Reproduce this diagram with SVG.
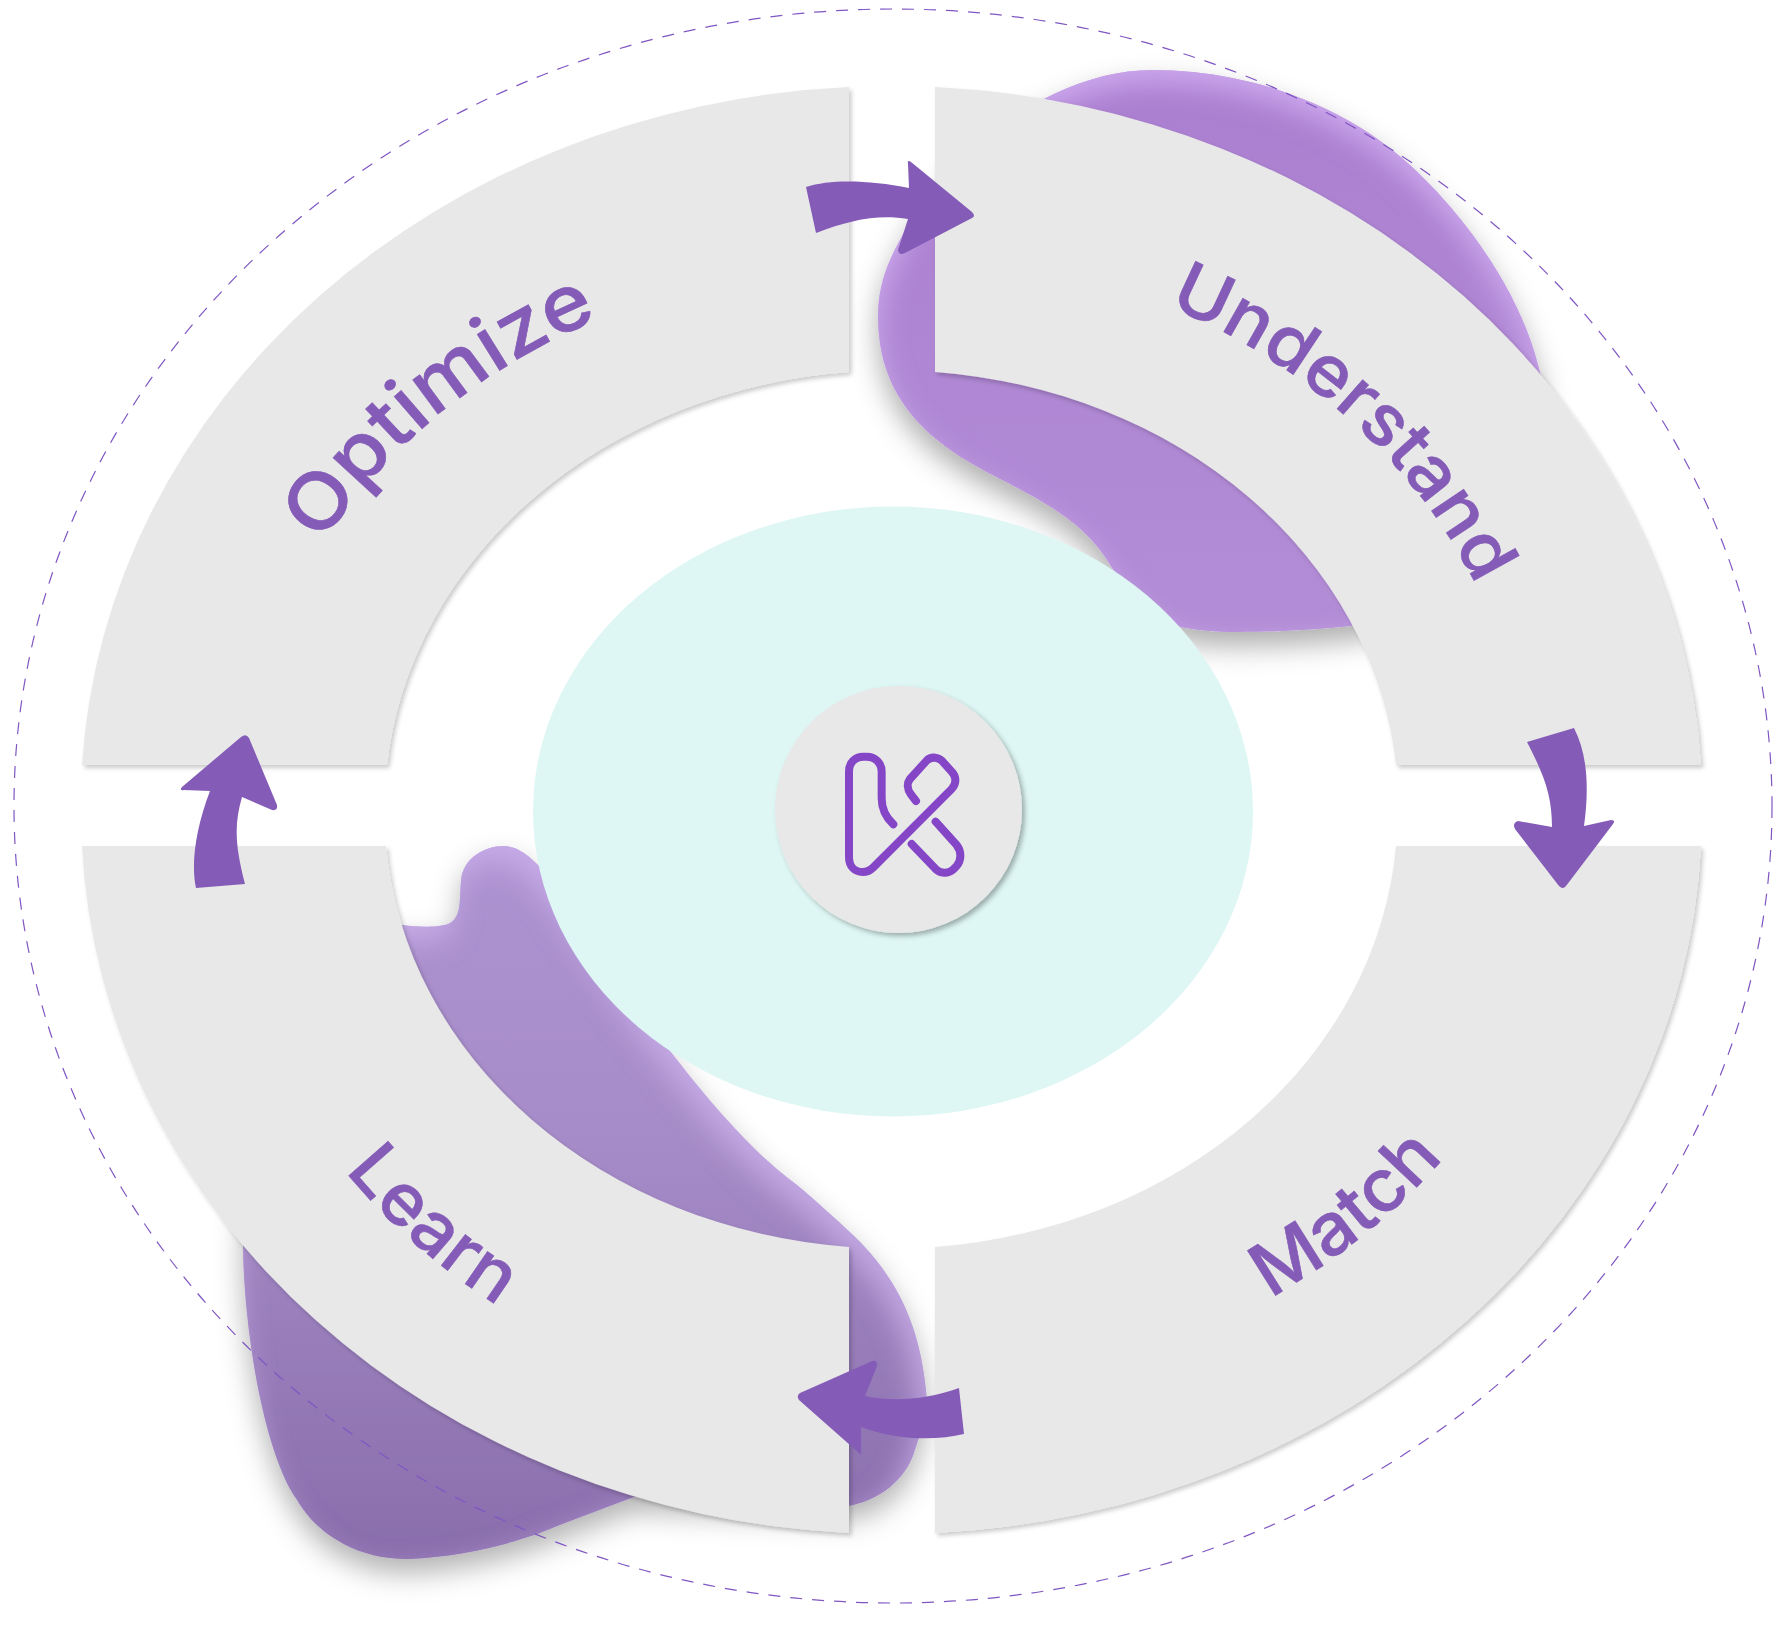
<svg xmlns="http://www.w3.org/2000/svg" width="1786" height="1630" viewBox="0 0 1786 1630">
<style>
.seg{fill:#e8e8e8;filter:url(#segShadow)}
.lbl{font-family:"Inter","Liberation Sans",sans-serif;font-weight:500;fill:#845bb7;stroke:#845bb7;stroke-width:0.6}
.arrow{fill:#845bb7}
.logo{fill:none;stroke:#8446c7;stroke-width:24;stroke-linecap:round;stroke-linejoin:round}
</style>
<defs>
<filter id="segShadow" x="-5%" y="-5%" width="110%" height="110%">
<feDropShadow dx="2.5" dy="3" stdDeviation="2" flood-color="#000" flood-opacity="0.2"/>
</filter>
<filter id="discShadow" x="-10%" y="-10%" width="120%" height="120%">
<feDropShadow dx="3" dy="3" stdDeviation="2.5" flood-color="#000" flood-opacity="0.3"/>
</filter>
<filter id="blobUp" x="-15%" y="-15%" width="130%" height="130%">
<feGaussianBlur in="SourceAlpha" stdDeviation="14" result="b"/>
<feOffset in="b" dy="14" result="bo"/>
<feFlood flood-color="#000" flood-opacity="0.32"/>
<feComposite in2="bo" operator="in" result="shadow"/>
<feOffset in="b" dy="12" result="inner"/>
<feComposite in="SourceAlpha" in2="inner" operator="out" result="edge"/>
<feFlood flood-color="#d2aef2" flood-opacity="0.85"/>
<feComposite in2="edge" operator="in" result="glow"/>
<feMerge><feMergeNode in="shadow"/><feMergeNode in="SourceGraphic"/><feMergeNode in="glow"/></feMerge>
</filter>
<filter id="blobLow" x="-15%" y="-15%" width="130%" height="130%">
<feGaussianBlur in="SourceAlpha" stdDeviation="14" result="b"/>
<feOffset in="b" dy="14" result="bo"/>
<feFlood flood-color="#000" flood-opacity="0.3"/>
<feComposite in2="bo" operator="in" result="shadow"/>
<feOffset in="b" dx="-7" dy="14" result="inner"/>
<feComposite in="SourceAlpha" in2="inner" operator="out" result="edge"/>
<feFlood flood-color="#d0b4f0" flood-opacity="0.7"/>
<feComposite in2="edge" operator="in" result="glow"/>
<feMerge><feMergeNode in="shadow"/><feMergeNode in="SourceGraphic"/><feMergeNode in="glow"/></feMerge>
</filter>
<linearGradient id="gradUp" gradientUnits="userSpaceOnUse" x1="0" y1="70" x2="0" y2="632">
<stop offset="0" stop-color="#ab7fd0"/><stop offset="1" stop-color="#b28dd6"/>
</linearGradient>
<linearGradient id="gradLow" gradientUnits="userSpaceOnUse" x1="0" y1="846" x2="0" y2="1560">
<stop offset="0" stop-color="#ae93d2"/><stop offset="0.4" stop-color="#a68cc8"/><stop offset="1" stop-color="#896dac"/>
</linearGradient>
<path id="pU" d="M1168,306 A630,553 0 0 1 1475,583"/>
<path id="pO" d="M322,544 A630,553 0 0 1 587,324"/>
<path id="pL" d="M345,1171 A690,605 0 0 0 498,1306"/>
<path id="pM" d="M1270,1298 A680,597 0 0 0 1442,1160"/>
</defs>
<rect width="1786" height="1630" fill="#fff"/>
<g id="blobs">
<path fill="url(#gradUp)" filter="url(#blobUp)" d="M1153,70 C1240,70 1340,100 1410,165 C1470,220 1525,300 1541,377 C1545,500 1420,620 1351,626 C1310,630 1270,632 1239,632 C1215,632 1195,630 1180,627 C1150,610 1130,590 1112,568 C1090,530 1060,510 1008,483 C960,458 878,420 878,317 C878,285 888,262 900,240 C935,170 1040,70 1153,70 Z"/>
<path fill="url(#gradLow)" filter="url(#blobLow)" d="M503,846 C485,846 463,858 461,880 C459,900 462,915 450,923 C440,928 420,927 402,925 C340,925 243,1100 243,1243 C243,1320 262,1450 297,1500 C320,1540 365,1559 404,1559 C445,1559 510,1547 560,1525 L634,1497 L849,1506 C880,1500 905,1480 914,1453 C925,1420 928,1410 926,1390 C920,1330 900,1280 854,1236 C835,1218 815,1200 797,1185 C770,1165 750,1145 729,1122 C705,1096 685,1070 666,1046 C610,975 570,900 538,865 C525,852 515,846 503,846 Z"/>
</g>
<ellipse id="center-field" cx="893" cy="811.5" rx="360" ry="305" fill="#def7f4"/>
<ellipse id="orbit" cx="893" cy="806" rx="879" ry="797" fill="none" stroke="#7f56c2" stroke-width="1.2" stroke-dasharray="12 10"/>
<g id="node-optimize">
<path class="seg" d="M849,87 A812,720 0 0 0 82,765 L387,765 A507,436 0 0 1 849,372 Z"/>
<text class="lbl" font-size="78"><textPath href="#pO" textLength="362" lengthAdjust="spacingAndGlyphs">Optimize</textPath></text>
</g>
<g id="node-understand">
<path class="seg" d="M935,87 A812,720 0 0 1 1701,765 L1396,765 A507,436 0 0 0 935,372 Z"/>
<text class="lbl" font-size="71"><textPath href="#pU" textLength="425" lengthAdjust="spacingAndGlyphs">Understand</textPath></text>
</g>
<g id="node-match">
<path class="seg" d="M1701,846 A812,720 0 0 1 935,1533 L935,1247 A507,436 0 0 0 1396,846 Z"/>
<text class="lbl" font-size="73"><textPath href="#pM" textLength="224" lengthAdjust="spacingAndGlyphs">Match</textPath></text>
</g>
<g id="node-learn">
<path class="seg" d="M82,846 A812,720 0 0 0 849,1533 L849,1247 A507,436 0 0 1 386,846 Z"/>
<text class="lbl" font-size="72"><textPath href="#pL" textLength="205" lengthAdjust="spacingAndGlyphs">Learn</textPath></text>
</g>
<g id="node-hub">
<circle cx="898.5" cy="809.5" r="123.5" fill="#e8e8e8" filter="url(#discShadow)"/>
<g transform="translate(740,640) scale(0.3333)">
<path class="logo" d="M460,553 C435,530 425,505 425,475 L425,395 C425,368 405,350 380,350 L370,350 C345,350 327,368 327,395 L327,650 C327,680 345,696 368,696 C382,696 392,690 400,682 L635,447 C650,432 650,410 635,395 L610,367 C598,352 575,347 560,362 L510,417 C500,430 502,448 512,462 L528,483"/>
<path class="logo" d="M515,612 L585,685 C600,702 625,702 640,688 L650,678 C665,660 665,635 650,615 L587,545"/>
</g>
</g>
<g id="connectors">
<path class="arrow" d="M806,187 C830,179 870,180 909,188 L908,164 Q907,159 911,162 L972,212 Q976,216 972,218 L905,253 Q899,256 898,250 L908,219 C878,214 850,220 816,233 Z"/>
<path class="arrow" d="M1527,742 L1574,728 C1588,755 1589,790 1584,826 L1611,820 Q1616,820 1613,824 L1566,886 Q1563,890 1559,886 L1515,829 Q1512,823 1518,821 L1552,827 C1552,795 1544,775 1527,742 Z"/>
<path class="arrow" d="M959,1388 C925,1400 893,1402 865,1396 L877,1366 Q877,1358 870,1362 L800,1393 Q796,1396 799,1400 L859,1453 Q861,1456 861,1452 L861,1427 C895,1440 935,1441 964,1434 Z"/>
<path class="arrow" d="M196,888 L245,884 C235,845 234,825 242,797 L272,810 Q278,811 277,805 L249,738 Q246,733 241,737 L182,787 Q179,791 184,790 L210,791 C195,830 191,865 196,888 Z"/>
</g>
</svg>
